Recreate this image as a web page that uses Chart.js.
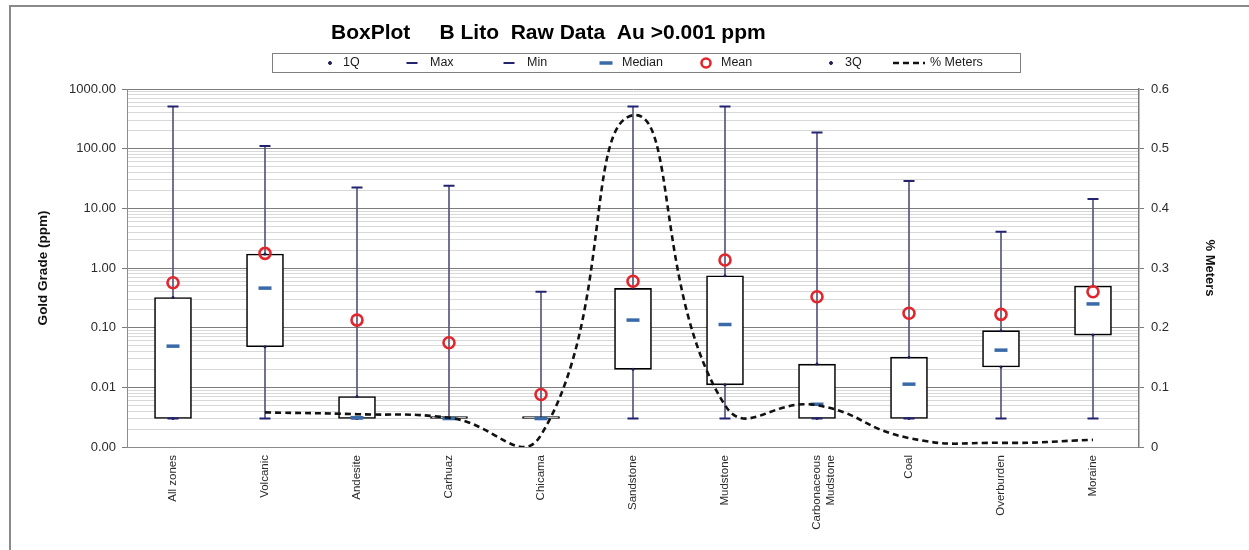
<!DOCTYPE html>
<html>
<head>
<meta charset="utf-8">
<script src="https://cdn.jsdelivr.net/npm/chart.js@4.4.1/dist/chart.umd.min.js"></script>
<style>
  html, body { margin: 0; padding: 0; background: #ffffff; }
  #wrap { width: 1249px; height: 550px; position: relative; }
</style>
</head>
<body>
<div id="wrap"><canvas id="chart"></canvas></div>
<script>
// Gold grade statistics per lithology (ppm) and share of drilled meters
const categories = ['All zones', 'Volcanic', 'Andesite', 'Carhuaz', 'Chicama', 'Sandstone',
  'Mudstone', ['Carbonaceous', 'Mudstone'], 'Coal', 'Overburden', 'Moraine'];
const minVals    = [0.003, 0.003, 0.003, 0.003, 0.003, 0.003, 0.003, 0.003, 0.003, 0.003, 0.003];
const q1Vals     = [0.003, 0.048, 0.003, 0.003, 0.003, 0.020, 0.011, 0.003, 0.003, 0.022, 0.075];
const medianVals = [0.049, 0.46, 0.0031, 0.003, 0.003, 0.134, 0.113, 0.0052, 0.0113, 0.042, 0.25];
const q3Vals     = [0.32, 1.71, 0.007, 0.003, 0.003, 0.455, 0.74, 0.0245, 0.032, 0.089, 0.50];
const maxVals    = [510, 111, 22.4, 23.8, 0.40, 510, 510, 187, 28.6, 4.04, 14.3];
const meanVals   = [0.565, 1.76, 0.134, 0.056, 0.0076, 0.60, 1.36, 0.33, 0.174, 0.167, 0.40];
const meterVals  = [null, 0.058, 0.055, 0.049, 0.02, 0.556, 0.07, 0.07, 0.015, 0.007, 0.012];
const gradeTicks = [0.001, 0.01, 0.1, 1, 10, 100, 1000];
const meterTicks = [0, 0.1, 0.2, 0.3, 0.4, 0.5, 0.6];

const titleText = 'BoxPlot     B Lito  Raw Data  Au >0.001 ppm';
const FONT = "'Liberation Sans', Arial, sans-serif";

const isMajor = v => Math.abs(Math.log10(v) - Math.round(Math.log10(v))) < 1e-9;

// log ticks: every decade plus the 2..9 subdivisions for the faint grid
function gradeGridValues() {
  const out = [];
  for (let i = 0; i < gradeTicks.length; i++) {
    out.push(gradeTicks[i]);
    if (i < gradeTicks.length - 1) {
      for (let m = 2; m <= 9; m++) out.push(+(gradeTicks[i] * m).toPrecision(6));
    }
  }
  return out;
}

// Frame, title and boxed legend
const decorPlugin = {
  id: 'decor',
  beforeDraw(chart) {
    const ctx = chart.ctx;
    ctx.save();
    ctx.fillStyle = '#ffffff';
    ctx.fillRect(0, 0, chart.width, chart.height);
    ctx.strokeStyle = '#8a8a8a';
    ctx.lineWidth = 2;
    ctx.strokeRect(10, 6, chart.width + 20, chart.height + 20);
    ctx.restore();
  },
  afterDraw(chart) {
    const ctx = chart.ctx;
    ctx.save();
    ctx.fillStyle = '#000000';
    ctx.font = 'bold 21px ' + FONT;
    ctx.textAlign = 'left';
    ctx.textBaseline = 'middle';
    ctx.fillText(titleText, 331, 33);

    // legend frame
    ctx.strokeStyle = '#7f7f7f';
    ctx.lineWidth = 1;
    ctx.strokeRect(272.5, 53.5, 748, 19);

    ctx.font = '12.5px ' + FONT;
    ctx.textBaseline = 'middle';
    const y = 63;
    const entries = [
      { ds: 2, sym: 330, txt: 343 },
      { ds: 3, sym: 412, txt: 430 },
      { ds: 4, sym: 509, txt: 527 },
      { ds: 5, sym: 606, txt: 622 },
      { ds: 6, sym: 706, txt: 721 },
      { ds: 7, sym: 831, txt: 845 },
      { ds: 8, sym: 909, txt: 930 }
    ];
    entries.forEach(e => {
      const d = chart.data.datasets[e.ds];
      ctx.save();
      if (d.type === 'line' && d.showLine !== false) {
        ctx.strokeStyle = d.borderColor;
        ctx.lineWidth = d.borderWidth;
        ctx.setLineDash(d.borderDash || []);
        ctx.beginPath();
        ctx.moveTo(e.sym - 16, y);
        ctx.lineTo(e.sym + 16, y);
        ctx.stroke();
      } else if (d.pointStyle === 'line') {
        ctx.strokeStyle = d.borderColor;
        ctx.lineWidth = d.borderWidth;
        ctx.beginPath();
        ctx.moveTo(e.sym - d.pointRadius, y);
        ctx.lineTo(e.sym + d.pointRadius, y);
        ctx.stroke();
      } else {
        ctx.strokeStyle = d.borderColor;
        ctx.fillStyle = d.backgroundColor;
        ctx.lineWidth = d.borderWidth;
        ctx.beginPath();
        ctx.arc(e.sym, y, Math.min(d.pointRadius, 4.5), 0, Math.PI * 2);
        ctx.fill();
        ctx.stroke();
      }
      ctx.restore();
      ctx.fillStyle = '#1a1a1a';
      ctx.fillText(d.label, e.txt, y);
    });
    ctx.restore();
  }
};

const markerBase = { type: 'line', showLine: false, pointHoverRadius: 0, yAxisID: 'y' };

const chart = new Chart(document.getElementById('chart'), {
  type: 'bar',
  data: {
    labels: categories,
    datasets: [
      { // whisker from min to max
        label: 'range', type: 'bar', yAxisID: 'y', order: 20, grouped: false,
        data: minVals.map((v, i) => [v, maxVals[i]]),
        backgroundColor: '#55557a', borderWidth: 0, barThickness: 1
      },
      { // interquartile box
        label: 'box', type: 'bar', yAxisID: 'y', order: 19, grouped: false,
        data: q1Vals.map((v, i) => [v, q3Vals[i]]),
        backgroundColor: '#ffffff', borderColor: '#000000', borderWidth: 1.6,
        borderSkipped: false, barThickness: 37, minBarLength: 2
      },
      { ...markerBase, label: '1Q', order: 6, data: q1Vals,
        pointStyle: 'circle', pointRadius: 1.5, borderWidth: 0,
        backgroundColor: '#20205a', borderColor: '#20205a' },
      { ...markerBase, label: 'Max', order: 5, data: maxVals,
        pointStyle: 'line', pointRadius: 5.5, borderWidth: 2,
        borderColor: '#232370', backgroundColor: '#232370' },
      { ...markerBase, label: 'Min', order: 4, data: minVals,
        pointStyle: 'line', pointRadius: 5.5, borderWidth: 2,
        borderColor: '#232370', backgroundColor: '#232370' },
      { ...markerBase, label: 'Median', order: 3, data: medianVals,
        pointStyle: 'line', pointRadius: 6.5, borderWidth: 3.5,
        borderColor: '#3a6aa8', backgroundColor: '#3a6aa8' },
      { ...markerBase, label: 'Mean', order: 2, data: meanVals,
        pointStyle: 'circle', pointRadius: 5.5, borderWidth: 2.6,
        borderColor: '#e3262c', backgroundColor: 'rgba(255,255,255,0)' },
      { ...markerBase, label: '3Q', order: 6, data: q3Vals,
        pointStyle: 'circle', pointRadius: 1.5, borderWidth: 0,
        backgroundColor: '#20205a', borderColor: '#20205a' },
      { type: 'line', label: '% Meters', yAxisID: 'y1', order: 0, data: meterVals,
        borderColor: '#111111', borderWidth: 2.6, borderDash: [6, 4],
        pointRadius: 0, pointHoverRadius: 0, tension: 0.5, fill: false }
    ]
  },
  plugins: [decorPlugin],
  options: {
    responsive: true,
    maintainAspectRatio: false,
    animation: false,
    events: [],
    layout: { padding: { top: 89, left: 33, right: 20, bottom: 0 } },
    elements: { line: { capBezierPoints: false } },
    plugins: { legend: { display: false }, tooltip: { enabled: false }, title: { display: false } },
    scales: {
      x: {
        offset: true,
        grid: { display: false, drawTicks: false },
        border: { display: true, color: '#8c8c8c', width: 1 },
        ticks: {
          color: '#2b2b2b', font: { family: FONT, size: 11.5 },
          maxRotation: 90, minRotation: 90, padding: 8, autoSkip: false
        },
        afterFit(s) { s.height = 103; }
      },
      y: {
        type: 'logarithmic', position: 'left',
        min: gradeTicks[0], max: gradeTicks[gradeTicks.length - 1],
        afterBuildTicks(s) { s.ticks = gradeGridValues().map(v => ({ value: v })); },
        ticks: {
          autoSkip: false, color: '#2b2b2b', padding: 6,
          font: { family: FONT, size: 13 },
          callback: v => isMajor(v) ? v.toFixed(2) : ''
        },
        grid: {
          color: c => (c.tick && isMajor(c.tick.value)) ? '#7c7c7c' : '#d8d8d8',
          tickColor: c => (c.tick && isMajor(c.tick.value)) ? '#7c7c7c' : 'rgba(0,0,0,0)',
          tickLength: 5, lineWidth: 1
        },
        border: { display: true, color: '#8c8c8c', width: 1 },
        title: {
          display: true, text: 'Gold Grade (ppm)', color: '#111111',
          font: { family: FONT, size: 13.5, weight: 'bold' }, padding: { top: 2, bottom: 0 }
        },
        afterFit(s) { s.width = 94; }
      },
      y1: {
        type: 'linear', position: 'right',
        min: meterTicks[0], max: meterTicks[meterTicks.length - 1],
        afterBuildTicks(s) { s.ticks = meterTicks.map(v => ({ value: v })); },
        ticks: {
          color: '#2b2b2b', padding: 7, font: { family: FONT, size: 13 },
          callback: v => String(+v.toFixed(1))
        },
        grid: { drawOnChartArea: false, drawTicks: true, tickLength: 5, color: '#7c7c7c' },
        border: { display: true, color: '#7c7c7c', width: 1.5 },
        title: {
          display: true, text: '% Meters', color: '#111111',
          font: { family: FONT, size: 13, weight: 'bold' }, padding: { top: 12, bottom: 0 }
        },
        afterFit(s) { s.width = 90; }
      }
    }
  }
});
</script>
</body>
</html>
